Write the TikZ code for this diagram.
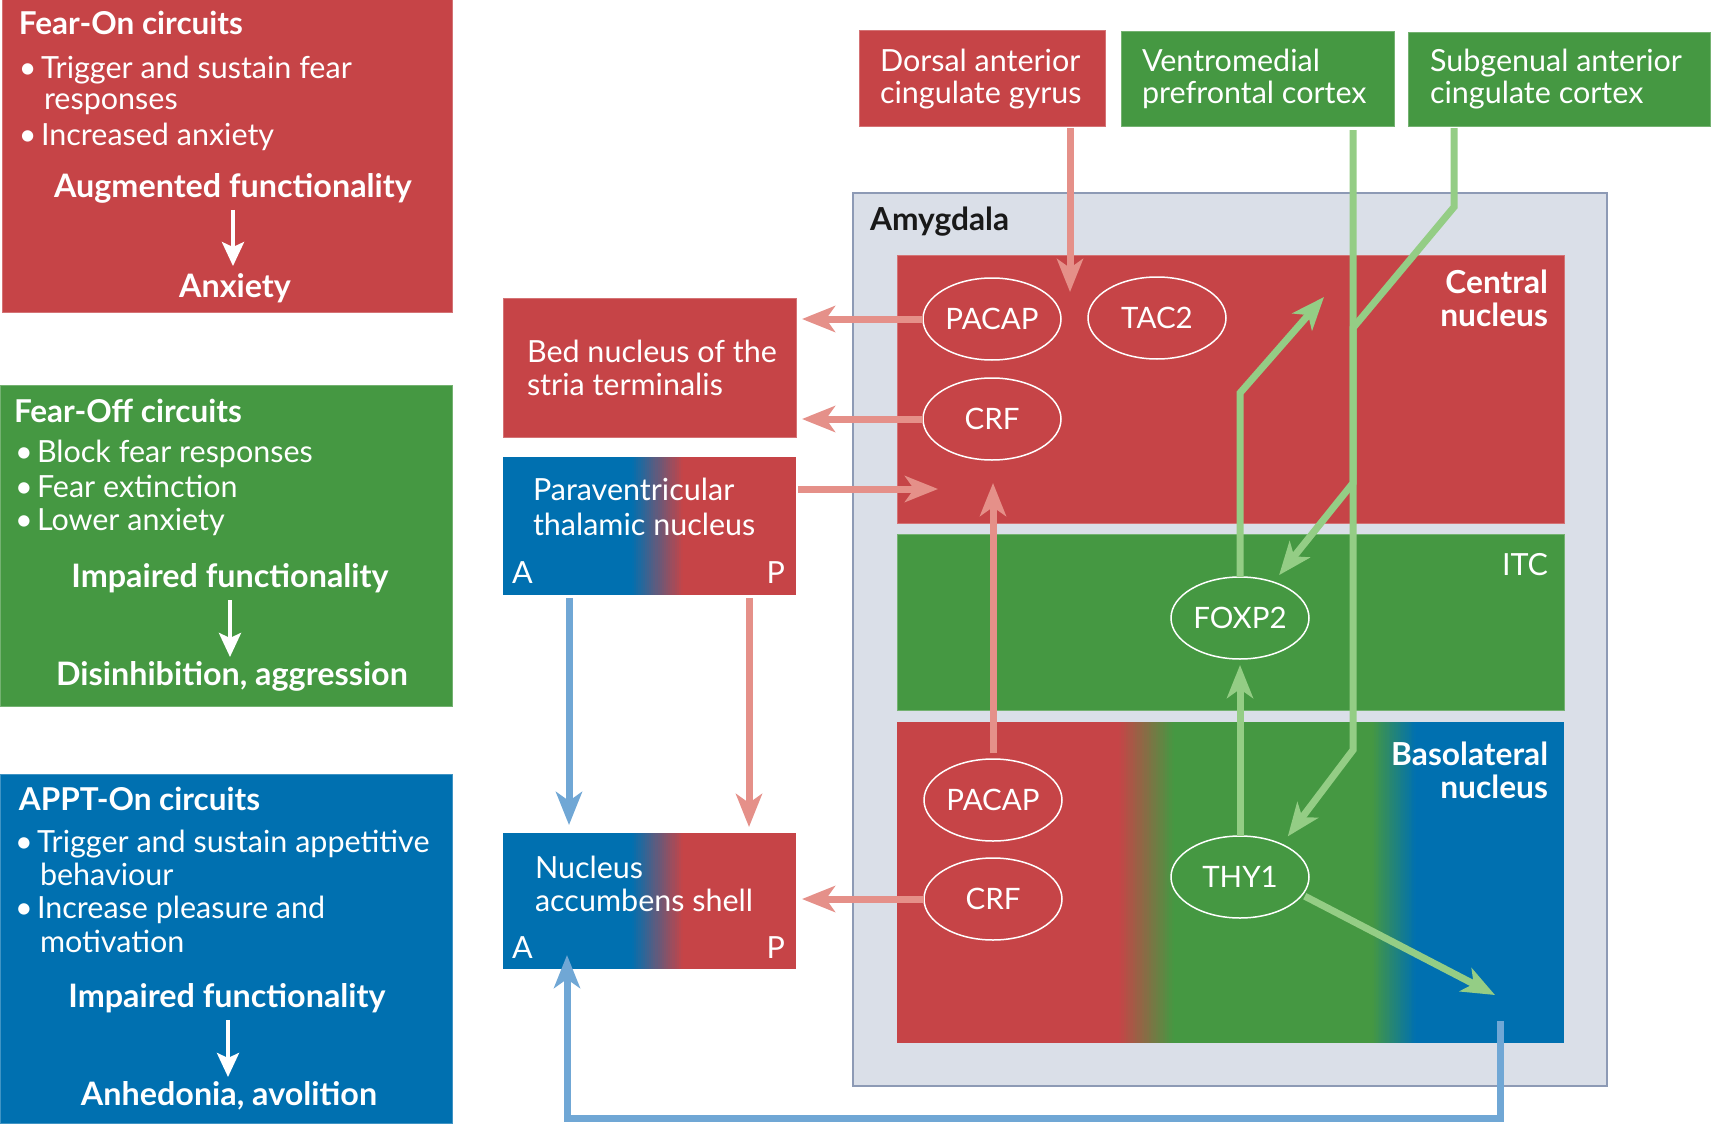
\documentclass[tikz,border=0pt]{standalone}
\usepackage{fontspec}
\setmainfont{Lato}
\usetikzlibrary{arrows.meta,shapes.geometric}
\definecolor{cred}{HTML}{C64447}
\definecolor{cgreen}{HTML}{459842}
\definecolor{cblue}{HTML}{0070B0}
\definecolor{ared}{HTML}{E59089}
\definecolor{agreen}{HTML}{94CD85}
\definecolor{ablue}{HTML}{70A7D5}
\definecolor{amyfill}{HTML}{DADFE8}
\definecolor{amyline}{HTML}{8D9AB5}
\newcommand{\gradstrip}[6]{% x0, x1, y0, y1, colorA, colorB
  \foreach \i in {0,...,23}{%
    \pgfmathsetmacro{\pp}{100*(\i+0.5)/24}%
    \pgfmathsetmacro{\xa}{#1+(#2-#1)*\i/24}%
    \pgfmathsetmacro{\xb}{#1+(#2-#1)*(\i+1)/24+0.4}%
    \fill[#6!\pp!#5] (\xa,#3) rectangle (\xb,#4);
  }}
\begin{document}
\begin{tikzpicture}[x=1pt,y=-1pt,
  every node/.style={inner sep=0pt,outer sep=0pt},
  tl/.style={text=white,anchor=base west,font=\fontsize{30.5}{34}\selectfont},
  tb/.style={text=white,anchor=base west,font=\fontsize{31.5}{34}\selectfont\bfseries},
  tc/.style={text=white,anchor=base,font=\fontsize{32.3}{34}\selectfont\bfseries},
  tre/.style={text=white,anchor=base east,font=\fontsize{31.7}{34}\selectfont\bfseries},
  trl/.style={text=white,anchor=base east,font=\fontsize{30.5}{34}\selectfont},
  boxr/.style={fill=cred,draw=cred!75!white,line width=1pt},
  boxg/.style={fill=cgreen,draw=cgreen!75!white,line width=1pt},
  boxb/.style={fill=cblue,draw=cblue!75!white,line width=1pt},
  boxn/.style={draw=none},
  ell/.style={ellipse,draw=white,line width=1.5pt,minimum width=138pt,minimum height=82pt,
    text=white,font=\fontsize{29.5}{33}\selectfont},
  redarr/.style={draw=ared,line width=7pt,-{Stealth[length=33pt,width=26pt,inset=9pt]}},
  greenarr/.style={draw=agreen,line width=7pt,-{Stealth[length=33pt,width=26pt,inset=9pt]}},
  bluearr/.style={draw=ablue,line width=7pt,-{Stealth[length=33pt,width=26pt,inset=9pt]}},
  whitearr/.style={draw=white,line width=4pt,-{Stealth[length=24pt,width=22pt,inset=5pt]}}
]
\useasboundingbox (0,0) rectangle (1711,1124);
\fill[white] (0,0) rectangle (1711,1124);

% ---------- left legend boxes ----------
\node[boxr,minimum width=450pt,minimum height=312pt] (fearon) at (227,156) {};
\node[tb] (fonT) at (19,35) {Fear-On circuits};
\node[tl] (fonB1) at (19,78) {•};
\node[tl] (fon1) at (41,78) {Trigger and sustain fear};
\node[tl] (fon1b) at (44,110) {responses};
\node[tl] (fonB2) at (19,145) {•};
\node[tl] (fon2) at (41,145) {Increased anxiety};
\node[tc] (fonA) at (233,197) {Augmented functionality};
\node[tc] (fonC) at (235,297) {Anxiety};
\draw[whitearr,shorten <=7pt,shorten >=7pt] (fonA.south -| 233,0) -- (fonC.north -| 233,0);

\node[boxg,minimum width=452pt,minimum height=321pt] (fearoff) at (226,545.5) {};
\node[tb] (foffT) at (14,422) {Fear-Off circuits};
\node[tl] (foffB1) at (15,462) {•};
\node[tl] (foff1) at (37,462) {Block fear responses};
\node[tl] (foffB2) at (15,497) {•};
\node[tl] (foff2) at (37,497) {Fear extinction};
\node[tl] (foffB3) at (15,530) {•};
\node[tl] (foff3) at (37,530) {Lower anxiety};
\node[tc] (foffA) at (230,587) {Impaired functionality};
\node[tc] (foffC) at (232,685) {Disinhibition, aggression};
\draw[whitearr,shorten <=8pt,shorten >=4pt] (foffA.south -| 230,0) -- (foffC.north -| 230,0);

\node[boxb,minimum width=452pt,minimum height=349pt] (appt) at (226,948.5) {};
\node[tb] (apT) at (19,810) {APPT-On circuits};
\node[tl] (apB1) at (15,852) {•};
\node[tl] (ap1) at (37,852) {Trigger and sustain appetitive};
\node[tl] (ap1b) at (40,885) {behaviour};
\node[tl] (apB2) at (15,918) {•};
\node[tl] (ap2) at (37,918) {Increase pleasure and};
\node[tl] (ap2b) at (40,952) {motivation};
\node[tc] (apA) at (227,1007) {Impaired functionality};
\node[tc] (apC) at (229,1105) {Anhedonia, avolition};
\draw[whitearr,shorten <=8pt,shorten >=4pt] (apA.south -| 228,0) -- (apC.north -| 228,0);

% ---------- middle column ----------
\node[boxr,minimum width=293pt,minimum height=139pt] (bnst) at (649.5,367.5) {};
\node[tl] (bn1) at (527,362) {Bed nucleus of the};
\node[tl] (bn2) at (527,395) {stria terminalis};

\fill[cblue] (503,457) rectangle (632.5,595);
\gradstrip{632}{683}{457}{595}{cblue}{cred}
\fill[cred] (683,457) rectangle (796,595);
\node[boxn,minimum width=293pt,minimum height=138pt] (pvt) at (649.5,526) {};
\node[tl] (pv1) at (533,500) {Paraventricular};
\node[tl] (pv2) at (533,535) {thalamic nucleus};
\node[tl] (pvA) at (512,583) {A};
\node[trl] (pvP) at (785,583) {P};

\fill[cblue] (503,833) rectangle (632.5,969);
\gradstrip{632}{683}{833}{969}{cblue}{cred}
\fill[cred] (683,833) rectangle (796,969);
\node[boxn,minimum width=293pt,minimum height=136pt] (nac) at (649.5,901) {};
\node[tl] (na1) at (535,878) {Nucleus};
\node[tl] (na2) at (535,911) {accumbens shell};
\node[tl] (naA) at (512,958) {A};
\node[trl] (naP) at (785,958) {P};

% ---------- top cortical boxes ----------
\node[boxr,minimum width=246pt,minimum height=95pt] (dacc) at (982,78.5) {};
\node[tl] (da1) at (880,72) {Dorsal anterior};
\node[tl] (da2) at (880,103) {cingulate gyrus};
\node[boxg,minimum width=273pt,minimum height=94pt] (vmpfc) at (1257.5,79) {};
\node[tl] (vm1) at (1142,72) {Ventromedial};
\node[tl] (vm2) at (1142,103) {prefrontal cortex};
\node[boxg,minimum width=302pt,minimum height=93pt] (sgacc) at (1559,79.5) {};
\node[tl] (sg1) at (1430,72) {Subgenual anterior};
\node[tl] (sg2) at (1430,103) {cingulate cortex};

% ---------- amygdala ----------
\node[fill=amyfill,draw=amyline,line width=2pt,minimum width=754pt,minimum height=893pt] (amyg) at (1230,639.5) {};
\node[anchor=base west,font=\fontsize{31.7}{34}\selectfont\bfseries,text=black!90] (amyL) at (870,230) {Amygdala};

\node[boxr,minimum width=667pt,minimum height=268pt] (central) at (1230.5,389) {};
\node[tre] (ce1) at (1548,293) {Central};
\node[tre] (ce2) at (1548,326) {nucleus};
\node[boxg,minimum width=667pt,minimum height=176pt] (itc) at (1230.5,622) {};
\node[trl] (itcL) at (1548,575) {ITC};

\fill[cred] (897,722) rectangle (1119.5,1043);
\gradstrip{1119}{1174}{722}{1043}{cred}{cgreen}
\fill[cgreen] (1174,722) rectangle (1372.5,1043);
\gradstrip{1372}{1416}{722}{1043}{cgreen}{cblue}
\fill[cblue] (1416,722) rectangle (1564,1043);
\node[boxn,minimum width=667pt,minimum height=321pt] (bla) at (1230.5,882.5) {};
\node[tre] (bl1) at (1548,765) {Basolateral};
\node[tre] (bl2) at (1548,798) {nucleus};

% ellipses
\node[ell] (pacapU) at (992,319) {PACAP};
\node[ell] (tac2) at (1157,318) {TAC2};
\node[ell] (crfU) at (992,419) {CRF};
\node[ell] (foxp2) at (1240,618) {FOXP2};
\node[ell] (pacapL) at (993,800) {PACAP};
\node[ell] (crfL) at (993,899) {CRF};
\node[ell] (thy1) at (1240,877) {THY1};

% ---------- connectors ----------
\coordinate (dtip) at (1070,292);
\coordinate (pvttip) at (938,489);
\coordinate (ctip) at (993,483);
\coordinate (gtip) at (1324,297);
\coordinate (vbend) at (1353,750);
\coordinate (sbend) at (1454,207);
\coordinate (m1) at (1353,328);
\coordinate (m2) at (1353,483);
\coordinate (btip) at (1495,995);
\coordinate (bstart) at (1500,1021);

\draw[redarr,shorten <=2pt] (dacc.south -| dtip) -- (dtip);
\draw[redarr,shorten >=6pt] (pacapU.west) -- (bnst.east |- pacapU.west);
\draw[redarr,shorten >=6pt] (crfU.west) -- (bnst.east |- crfU.west);
\draw[redarr,shorten <=2pt] (pvt.east |- pvttip) -- (pvttip);
\draw[redarr,shorten <=6pt] (pacapL.north) -- (ctip);
\draw[redarr,shorten >=6pt] (crfL.west) -- (nac.east |- crfL.west);
\draw[bluearr,shorten <=3pt,shorten >=8pt] ([xshift=-80.5pt]pvt.south) -- ([xshift=-80.5pt]nac.north);
\draw[redarr,shorten <=3pt,shorten >=6pt] ([xshift=99.5pt]pvt.south) -- ([xshift=99.5pt]nac.north);

\draw[greenarr] (foxp2.north) -- ++(0,-184) -- (gtip);
\draw[greenarr,shorten >=6pt] (thy1.north) -- (foxp2.south);
\draw[greenarr,shorten <=4pt,shorten >=10pt] (vmpfc.south -| vbend) -- (vbend) -- (thy1.38);
\draw[greenarr,shorten <=2pt,shorten >=9pt] (sgacc.south -| sbend) -- (sbend) -- (m1) -- (m2) -- (foxp2.47);
\draw[greenarr,shorten <=3pt] (thy1.-16) -- (btip);
\draw[bluearr] (bstart) |- ([xshift=-82.5pt,yshift=-149pt]nac.south) -- ([xshift=-82.5pt,yshift=14pt]nac.south);
\end{tikzpicture}
\end{document}
